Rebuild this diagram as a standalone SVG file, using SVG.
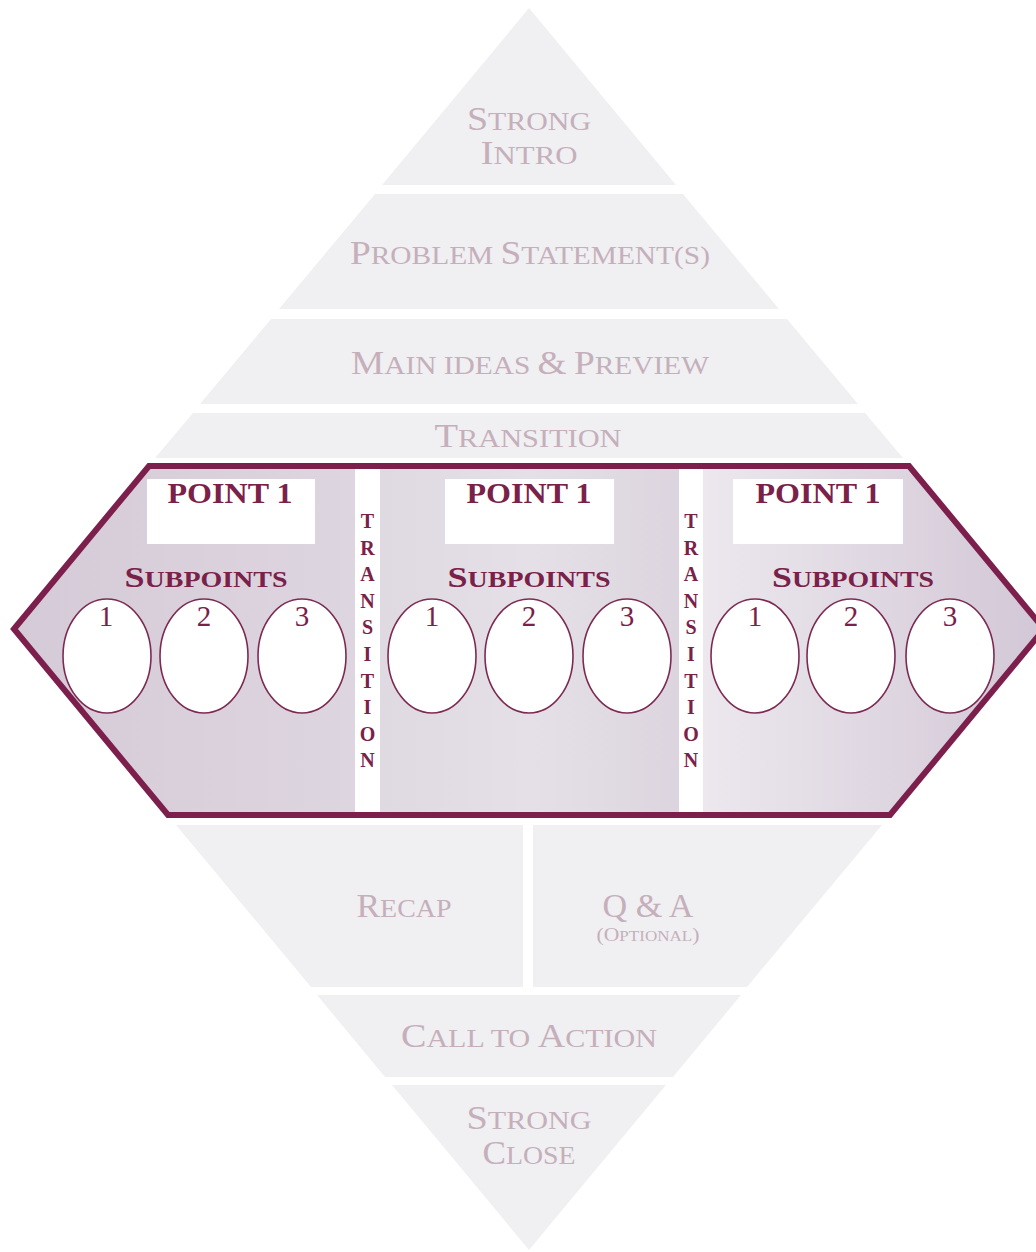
<svg xmlns="http://www.w3.org/2000/svg" width="1036" height="1252" viewBox="0 0 1036 1252">
<defs>
<style>
.band{fill:#f0eff2}
.bt{font-family:"Liberation Serif",serif;fill:#c5afbb;text-anchor:middle;font-size:26px}
.bt .b{font-size:33px}
.ht{font-family:"Liberation Serif",serif;fill:#7a2149;text-anchor:middle;font-weight:bold}
.pt{font-size:30px}
.sp{font-size:22.5px}
.sp .b{font-size:29px}
.num{font-family:"Liberation Serif",serif;fill:#7a2149;text-anchor:middle;font-size:29px}
.vt{font-family:"Liberation Serif",serif;fill:#7a2149;text-anchor:middle;font-size:20px;font-weight:bold}
.box{fill:#ffffff}
.ov{fill:#ffffff;stroke:#7d2a52;stroke-width:1.6}
.strip{fill:#ffffff}
</style>
<linearGradient id="gL" gradientUnits="userSpaceOnUse" x1="14" y1="0" x2="355" y2="0">
<stop offset="0" stop-color="#d5cbd8"/><stop offset="1" stop-color="#ddd5df"/>
</linearGradient>
<linearGradient id="gM" gradientUnits="userSpaceOnUse" x1="380" y1="0" x2="679" y2="0">
<stop offset="0" stop-color="#dfd9e2"/><stop offset="0.5" stop-color="#e5e0e7"/><stop offset="1" stop-color="#dcd5df"/>
</linearGradient>
<linearGradient id="gR" gradientUnits="userSpaceOnUse" x1="703" y1="0" x2="1044" y2="0">
<stop offset="0" stop-color="#ece8ee"/><stop offset="1" stop-color="#d2c7d6"/>
</linearGradient>
</defs>
<rect width="1036" height="1252" fill="#ffffff"/>

<g id="strong-intro">
<polygon class="band" points="529,8 676,185 382,185"/>
<text class="bt" x="529" y="130" textLength="124" lengthAdjust="spacingAndGlyphs"><tspan class="b">S</tspan>TRONG</text>
<text class="bt" x="529" y="164" textLength="97" lengthAdjust="spacingAndGlyphs"><tspan class="b">I</tspan>NTRO</text>
</g>

<g id="problem-statements">
<polygon class="band" points="375,194 683,194 779,309 279,309"/>
<text class="bt" x="530" y="264" textLength="360" lengthAdjust="spacingAndGlyphs"><tspan class="b">P</tspan>ROBLEM <tspan class="b">S</tspan>TATEMENT(S)</text>
</g>

<g id="main-ideas-preview">
<polygon class="band" points="271,319 787,319 858,404 200,404"/>
<text class="bt" x="530" y="374" textLength="358" lengthAdjust="spacingAndGlyphs"><tspan class="b">M</tspan>AIN IDEAS <tspan class="b">&amp;</tspan> <tspan class="b">P</tspan>REVIEW</text>
</g>

<g id="transition">
<polygon class="band" points="193,413 865,413 903,458 155,458"/>
<text class="bt" x="528" y="447" textLength="187" lengthAdjust="spacingAndGlyphs"><tspan class="b">T</tspan>RANSITION</text>
</g>

<g id="body">
<polygon points="14,629 149,466 355,466 355,815 168,815" fill="url(#gL)"/>
<rect x="380" y="466" width="299" height="349" fill="url(#gM)"/>
<polygon points="703,466 909,466 1044,629 890,815 703,815" fill="url(#gR)"/>
<rect class="strip" x="355" y="466" width="25" height="349"/>
<rect class="strip" x="679" y="466" width="24" height="349"/>

<g id="point-a">
<rect class="box" x="147" y="479" width="168" height="65"/>
<text class="ht pt" x="230" y="503" textLength="125" lengthAdjust="spacingAndGlyphs">POINT 1</text>
<text class="ht sp" x="206" y="587" textLength="163" lengthAdjust="spacingAndGlyphs"><tspan class="b">S</tspan>UBPOINTS</text>
<ellipse class="ov" cx="107" cy="656" rx="44" ry="57"/>
<ellipse class="ov" cx="204" cy="656" rx="44" ry="57"/>
<ellipse class="ov" cx="302" cy="656" rx="44" ry="57"/>
<text class="num" x="106" y="626">1</text>
<text class="num" x="204" y="626">2</text>
<text class="num" x="302" y="626">3</text>
</g>

<g id="transition-a">
<text class="vt"><tspan x="367.5" y="528">T</tspan><tspan x="367.5" y="554.6">R</tspan><tspan x="367.5" y="581.2">A</tspan><tspan x="367.5" y="607.8">N</tspan><tspan x="367.5" y="634.4">S</tspan><tspan x="367.5" y="661">I</tspan><tspan x="367.5" y="687.6">T</tspan><tspan x="367.5" y="714.2">I</tspan><tspan x="367.5" y="740.8">O</tspan><tspan x="367.5" y="767.4">N</tspan></text>
</g>

<g id="point-b">
<rect class="box" x="445" y="479" width="169" height="65"/>
<text class="ht pt" x="529" y="503" textLength="125" lengthAdjust="spacingAndGlyphs">POINT 1</text>
<text class="ht sp" x="529" y="587" textLength="163" lengthAdjust="spacingAndGlyphs"><tspan class="b">S</tspan>UBPOINTS</text>
<ellipse class="ov" cx="432" cy="656" rx="44" ry="57"/>
<ellipse class="ov" cx="529" cy="656" rx="44" ry="57"/>
<ellipse class="ov" cx="627" cy="656" rx="44" ry="57"/>
<text class="num" x="432" y="626">1</text>
<text class="num" x="529" y="626">2</text>
<text class="num" x="627" y="626">3</text>
</g>

<g id="transition-b">
<text class="vt"><tspan x="691" y="528">T</tspan><tspan x="691" y="554.6">R</tspan><tspan x="691" y="581.2">A</tspan><tspan x="691" y="607.8">N</tspan><tspan x="691" y="634.4">S</tspan><tspan x="691" y="661">I</tspan><tspan x="691" y="687.6">T</tspan><tspan x="691" y="714.2">I</tspan><tspan x="691" y="740.8">O</tspan><tspan x="691" y="767.4">N</tspan></text>
</g>

<g id="point-c">
<rect class="box" x="733" y="479" width="170" height="65"/>
<text class="ht pt" x="818" y="503" textLength="125" lengthAdjust="spacingAndGlyphs">POINT 1</text>
<text class="ht sp" x="853" y="587" textLength="162" lengthAdjust="spacingAndGlyphs"><tspan class="b">S</tspan>UBPOINTS</text>
<ellipse class="ov" cx="755" cy="656" rx="44" ry="57"/>
<ellipse class="ov" cx="851" cy="656" rx="44" ry="57"/>
<ellipse class="ov" cx="950" cy="656" rx="44" ry="57"/>
<text class="num" x="755" y="626">1</text>
<text class="num" x="851" y="626">2</text>
<text class="num" x="950" y="626">3</text>
</g>

<polygon points="14,629 149,466 909,466 1044,629 890,815 168,815" fill="none" stroke="#7d1f4c" stroke-width="6" stroke-linejoin="miter"/>
</g>

<g id="recap">
<polygon class="band" points="176,825 523,825 523,987 311,987"/>
<text class="bt" x="404" y="917" textLength="95" lengthAdjust="spacingAndGlyphs"><tspan class="b">R</tspan>ECAP</text>
</g>

<g id="q-and-a">
<polygon class="band" points="533,825 882,825 747,987 533,987"/>
<text class="bt" x="648" y="917" textLength="91" lengthAdjust="spacingAndGlyphs" style="font-size:33px">Q &amp; A</text>
<text class="bt" x="648" y="941" textLength="103" lengthAdjust="spacingAndGlyphs" style="font-size:15px"><tspan style="font-size:19px">(O</tspan>PTIONAL<tspan style="font-size:19px">)</tspan></text>
</g>

<g id="call-to-action">
<polygon class="band" points="317,995 741,995 673,1077 385,1077"/>
<text class="bt" x="529" y="1047" textLength="256" lengthAdjust="spacingAndGlyphs"><tspan class="b">C</tspan>ALL TO <tspan class="b">A</tspan>CTION</text>
</g>

<g id="strong-close">
<polygon class="band" points="392,1085 666,1085 529,1250"/>
<text class="bt" x="529" y="1129" textLength="125" lengthAdjust="spacingAndGlyphs"><tspan class="b">S</tspan>TRONG</text>
<text class="bt" x="529" y="1164" textLength="93" lengthAdjust="spacingAndGlyphs"><tspan class="b">C</tspan>LOSE</text>
</g>

<g id="connectors"/>
</svg>
